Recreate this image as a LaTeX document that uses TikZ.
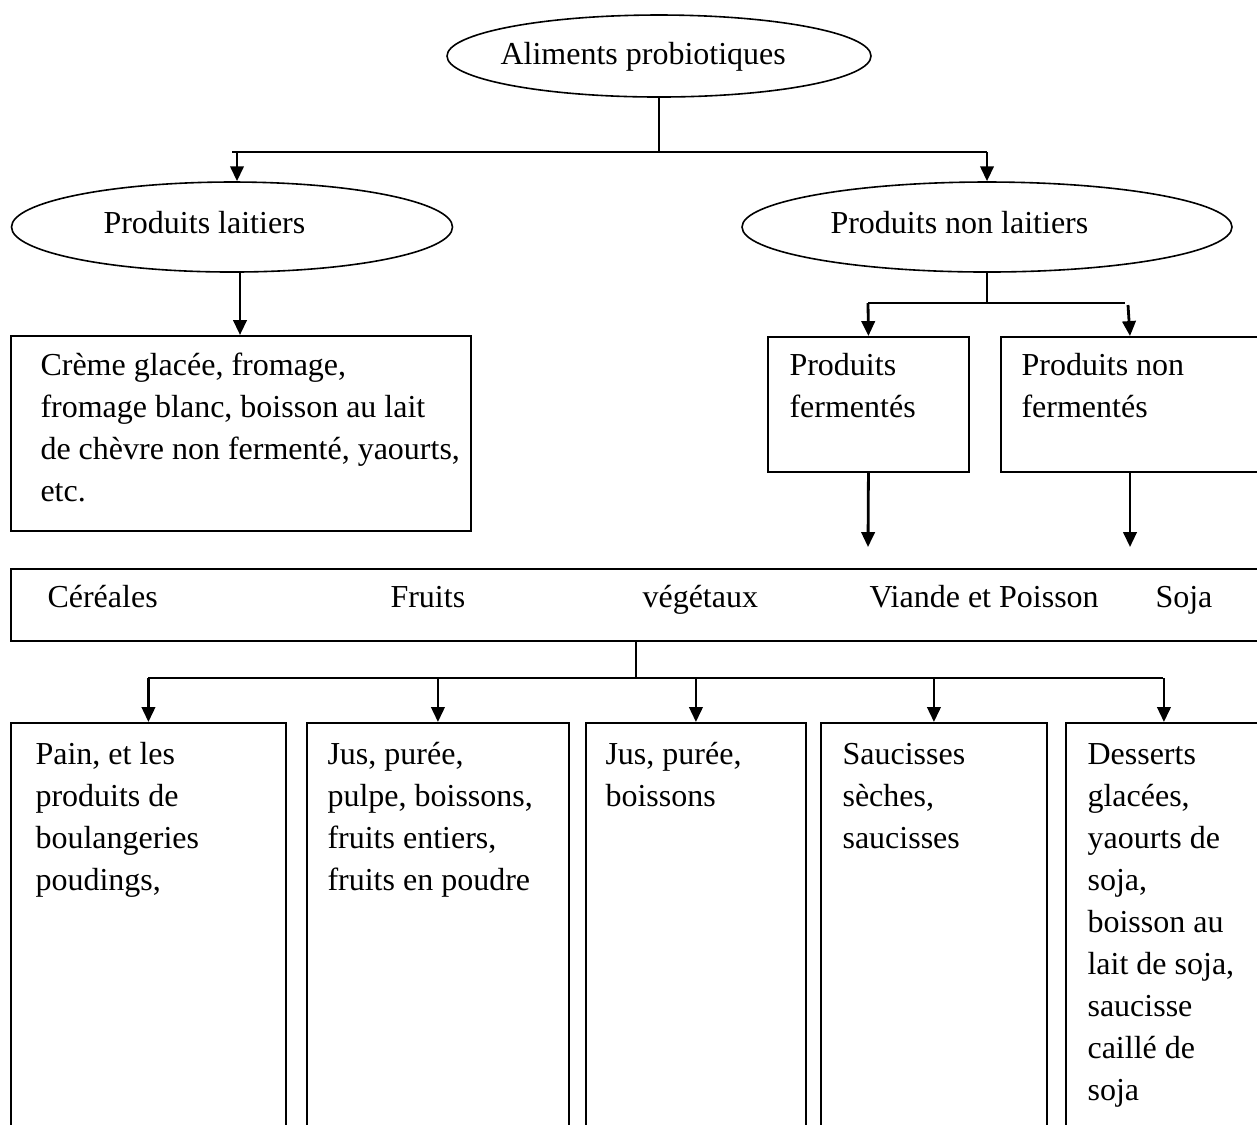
\documentclass[tikz,border=0pt]{standalone}
\usepackage{fontspec}
\setmainfont{Liberation Serif}
\usetikzlibrary{shapes.geometric,arrows.meta}
\newdimen\pxu \pxu=0.375pt
\begin{document}
\begin{tikzpicture}[x=0.375pt,y=-0.375pt,
  ln/.style={line width=0.85pt},
  thinln/.style={line width=0.45pt},
  arr/.style={line width=1.05pt,-{Triangle[length=5.6pt,width=5pt]}},
  ell/.style={draw,ellipse,line width=0.6pt,inner sep=0pt},
  box/.style={draw,rectangle,line width=0.7pt,inner sep=0pt,anchor=north west},
  txt/.style={inner sep=0pt,anchor=base west,align=left,font=\fontsize{12}{15.75}\selectfont},
]
\useasboundingbox (0,0) rectangle (1257,1124);
\clip (0,0) rectangle (1257,1124);

% ellipses
\node[ell,minimum width=424\pxu,minimum height=82\pxu] (e0) at (659,56) {};
\node[txt] (e0t) at (500,64) {Aliments probiotiques};
\node[ell,minimum width=441\pxu,minimum height=90\pxu] (e1) at (232,227) {};
\node[txt] (e1t) at (103,233) {Produits laitiers};
\node[ell,minimum width=490\pxu,minimum height=90\pxu] (e2) at (987,227) {};
\node[txt] (e2t) at (830,233) {Produits non laitiers};

% second level boxes (text anchored at the baseline of its last line)
\node[box,minimum width=460\pxu,minimum height=195\pxu] (b1) at (10,335) {};
\node[txt] (b1t) at (40,501) {Crème glacée, fromage,\\fromage blanc, boisson au lait\\de chèvre non fermenté, yaourts,\\etc.};
\node[box,minimum width=201\pxu,minimum height=135\pxu] (bf) at (767,336) {};
\node[txt] (bft) at (789,417) {Produits\\fermentés};
\node[box,minimum width=270\pxu,minimum height=135\pxu] (bnf) at (1000,336) {};
\node[txt] (bnft) at (1021,417) {Produits non\\fermentés};

% band
\node[box,minimum width=1260\pxu,minimum height=72\pxu] (band) at (10,568) {};
\node[txt] (bd1) at (47,607) {Céréales};
\node[txt] (bd2) at (390,607) {Fruits};
\node[txt] (bd3) at (642,607) {végétaux};
\node[txt] (bd4) at (869,607) {Viande et Poisson};
\node[txt] (bd5) at (1155,607) {Soja};

% bottom boxes
\node[box,minimum width=275\pxu,minimum height=430\pxu] (c1) at (10,722) {};
\node[box,minimum width=262\pxu,minimum height=430\pxu] (c2) at (306,722) {};
\node[box,minimum width=220\pxu,minimum height=430\pxu] (c3) at (585,722) {};
\node[box,minimum width=226\pxu,minimum height=430\pxu] (c4) at (820,722) {};
\node[box,minimum width=196\pxu,minimum height=430\pxu] (c5) at (1065,722) {};
\node[txt] (c1t) at (35,890) {Pain, et les\\produits de\\boulangeries\\poudings,};
\node[txt] (c2t) at (327,890) {Jus, purée,\\pulpe, boissons,\\fruits entiers,\\fruits en poudre};
\node[txt] (c3t) at (605,806) {Jus, purée,\\boissons};
\node[txt] (c4t) at (842,848) {Saucisses\\sèches,\\saucisses};
\node[txt] (c5t) at (1087,1100) {Desserts\\glacées,\\yaourts de\\soja,\\boisson au\\lait de soja,\\saucisse\\caillé de\\soja};

% connectors level 1
\coordinate (h1L) at (232,152);
\coordinate (h1R) at (987,152);
\draw[thinln] (e0.south) -- (e0.south |- h1L);
\draw[ln] (h1L) -- (h1R);
\draw[arr] ([xshift=5\pxu]h1L) -- ([xshift=5\pxu]e1.north);
\draw[arr] (h1R) -- (e2.north);
\draw[arr] ([xshift=8\pxu]e1.south) -- ([xshift=8\pxu]e1.south |- b1.north);

% connectors level 2 (non laitiers)
\coordinate (h2L) at (868,303);
\coordinate (h2R) at (1125,303);
\coordinate (h2a) at (1128,305);
\draw[thinln] (e2.south) -- (e2.south |- h2L);
\draw[ln] (h2L) -- (h2R);
\draw[arr] (h2L) -- (bf.north);
\draw[arr] (h2a) -- ([xshift=130\pxu]bnf.north west);
\coordinate (f1) at (868,547);
\coordinate (f2) at (1130,547);
\draw[arr] (bf.south) -- (f1);
\draw[arr] ([xshift=130\pxu]bnf.south west) -- (f2);

% connectors level 3
\coordinate (h3L) at (148,678);
\coordinate (h3R) at (1163,678);
\draw[thinln] ([xshift=-5\pxu]band.south) -- ([xshift=-5\pxu]band.south |- h3L);
\draw[ln] (h3L) -- (h3R);
\foreach \c in {c1,c2,c3,c4,c5} {
  \draw[arr] (h3L -| \c.north) -- (\c.north);
}
\end{tikzpicture}
\end{document}
